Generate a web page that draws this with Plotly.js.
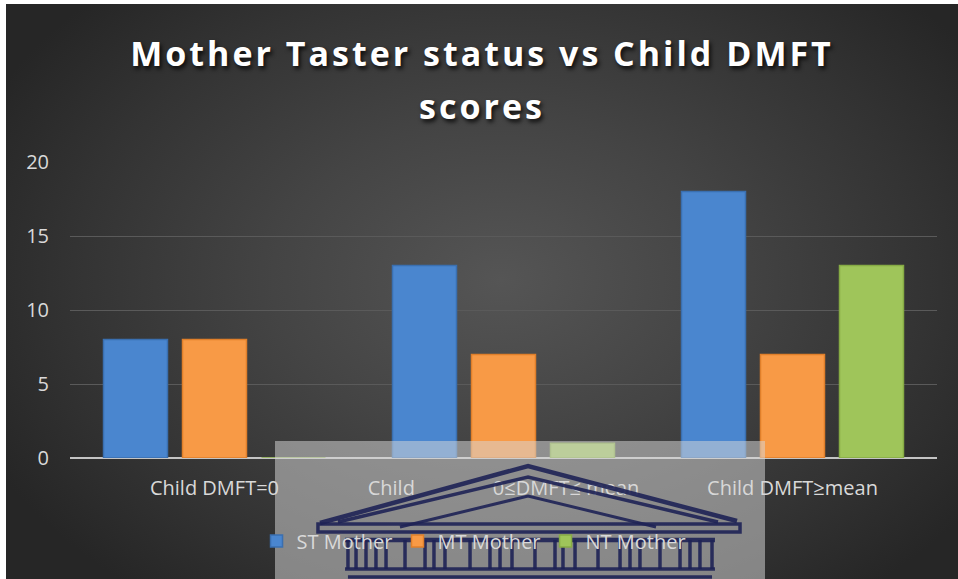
<!DOCTYPE html>
<html><head><meta charset="utf-8">
<script src="https://cdn.plot.ly/plotly-3.0.1.min.js"></script>
<style>
html,body{margin:0;padding:0;background:#ffffff;}
#wrap{position:absolute;left:6px;top:4px;width:952px;height:575px;
background:radial-gradient(ellipse 60% 70% at 52% 48%, #555555 0%, #444444 40%, #333333 75%, #262626 100%);}
#chart{width:952px;height:575px;}
.gtitle{letter-spacing:3px;}
.gtitle tspan.line + tspan.line{font-size:41px !important;}
</style></head>
<body><div id="wrap"><div id="chart"></div></div>
<script>
const categories = ["Child DMFT=0", "Child\u00A0\u00A0\u00A0\u00A0\u00A0\u00A0\u00A0\u00A0\u00A0\u00A0\u00A0\u00A0\u00A0\u00A0\u00A00≤DMFT≤ mean", "Child DMFT≥mean"];
const stMother = [8, 13, 18];
const mtMother = [8, 7, 7];
const ntMother = [0, 1, 13];
const seriesNames = ["ST Mother", "MT Mother", "NT Mother"];
const yTicks = [0, 5, 10, 15, 20];
const titleLine1 = "Mother Taster status vs Child DMFT";
const titleLine2 = "scores";

// pixel -> paper helpers for decorative watermark (plot area 70..937 x, 162..458 y in image pixels)
const PX0 = 70, PX1 = 937, PY0 = 162, PY1 = 458;
const px = x => (x - PX0) / (PX1 - PX0);
const py = y => (PY1 - y) / (PY1 - PY0);
function path(pts, close){ return pts.map((p,i)=>(i?'L':'M')+px(p[0]).toFixed(4)+','+py(p[1]).toFixed(4)).join(' ')+(close?' Z':''); }

const navy = 'rgba(30,34,85,0.9)';
const shapes = [
  {type:'rect', xref:'paper', yref:'paper', x0:px(275), x1:px(765), y0:py(441), y1:py(600), fillcolor:'rgba(215,215,215,0.52)', line:{width:0}, layer:'above'},
  {type:'path', xref:'paper', yref:'paper', path:path([[320,523],[528,466],[737,521]]), line:{color:navy,width:4.5}, layer:'above'},
  {type:'path', xref:'paper', yref:'paper', path:path([[338,522],[528,477],[718,522]]), line:{color:navy,width:3.5}, layer:'above'},
  {type:'path', xref:'paper', yref:'paper', path:path([[400,527],[528,496],[656,527]]), line:{color:navy,width:3}, layer:'above'},
  {type:'path', xref:'paper', yref:'paper', path:path([[318,524],[740,524],[740,532],[318,532]],true), line:{color:navy,width:3.5}, layer:'above'},
  {type:'path', xref:'paper', yref:'paper', path:path([[345,540],[715,540]]), line:{color:navy,width:4.5}, layer:'above'},
  {type:'path', xref:'paper', yref:'paper', path:path([[345,569],[715,569]]), line:{color:navy,width:3.5}, layer:'above'},
  {type:'path', xref:'paper', yref:'paper', path:path([[348,577],[712,577]]), line:{color:navy,width:3.5}, layer:'above'}
];
const colX = [348,356,366,376,386,405,425,434,445,470,490,500,512,535,555,563,575,598,620,630,640,660,680,690,700,712];
colX.forEach(x => shapes.push({type:'path', xref:'paper', yref:'paper', path:path([[x,540],[x,569]]), line:{color:navy,width:3.5}, layer:'above'}));

const tickFont = {family:'"Open Sans", sans-serif', size:20, color:'#d9d9d9'};
const traces = [
  {type:'bar', name:seriesNames[0], x:categories, y:stMother, marker:{color:'#4a86cf', line:{color:'#3a6fb0', width:1.5}}},
  {type:'bar', name:seriesNames[1], x:categories, y:mtMother, marker:{color:'#f89a46', line:{color:'#e07f2a', width:1.5}}},
  {type:'bar', name:seriesNames[2], x:categories, y:ntMother, marker:{color:'#9fc55a', line:{color:'#86ab44', width:1.5}}}
];
const layout = {
  width:952, height:575,
  paper_bgcolor:'rgba(0,0,0,0)', plot_bgcolor:'rgba(0,0,0,0)',
  margin:{l:64, r:21, t:158, b:121, pad:0},
  title:{text:titleLine1 + '<br><span style="font-size:34px">' + titleLine2 + '</span>', x:0.5, xref:'container', xanchor:'center',
    yref:'container', y:1-62/575, yanchor:'top',
    font:{family:'"Open Sans", sans-serif', size:34, weight:'bold', color:'#ffffff', shadow:'2px 3px 4px rgba(0,0,0,0.8)'}},
  barmode:'group', bargap:0.18, bargroupgap:0.19,
  xaxis:{type:'category', showgrid:false, zeroline:false, showline:false, ticks:'', tickfont:tickFont, ticklabelstandoff:16, fixedrange:true},
  yaxis:{range:[0,20], tickvals:yTicks, ticktext:yTicks.map(String), showgrid:true, gridcolor:'#5a5a5a', gridwidth:1,
    zeroline:true, zerolinecolor:'#c4c4c4', zerolinewidth:2, showline:false, ticks:'', tickfont:tickFont, ticklabelstandoff:20, fixedrange:true},
  showlegend:true,
  legend:{orientation:'h', x:0.466, xanchor:'center', y:py(541), yanchor:'middle', font:{family:'"Open Sans", sans-serif', size:20, color:'#d9d9d9'}, bgcolor:'rgba(0,0,0,0)', itemclick:false, itemdoubleclick:false},
  shapes:shapes
};
Plotly.newPlot('chart', traces, layout, {displayModeBar:false, staticPlot:true});
</script></body></html>
